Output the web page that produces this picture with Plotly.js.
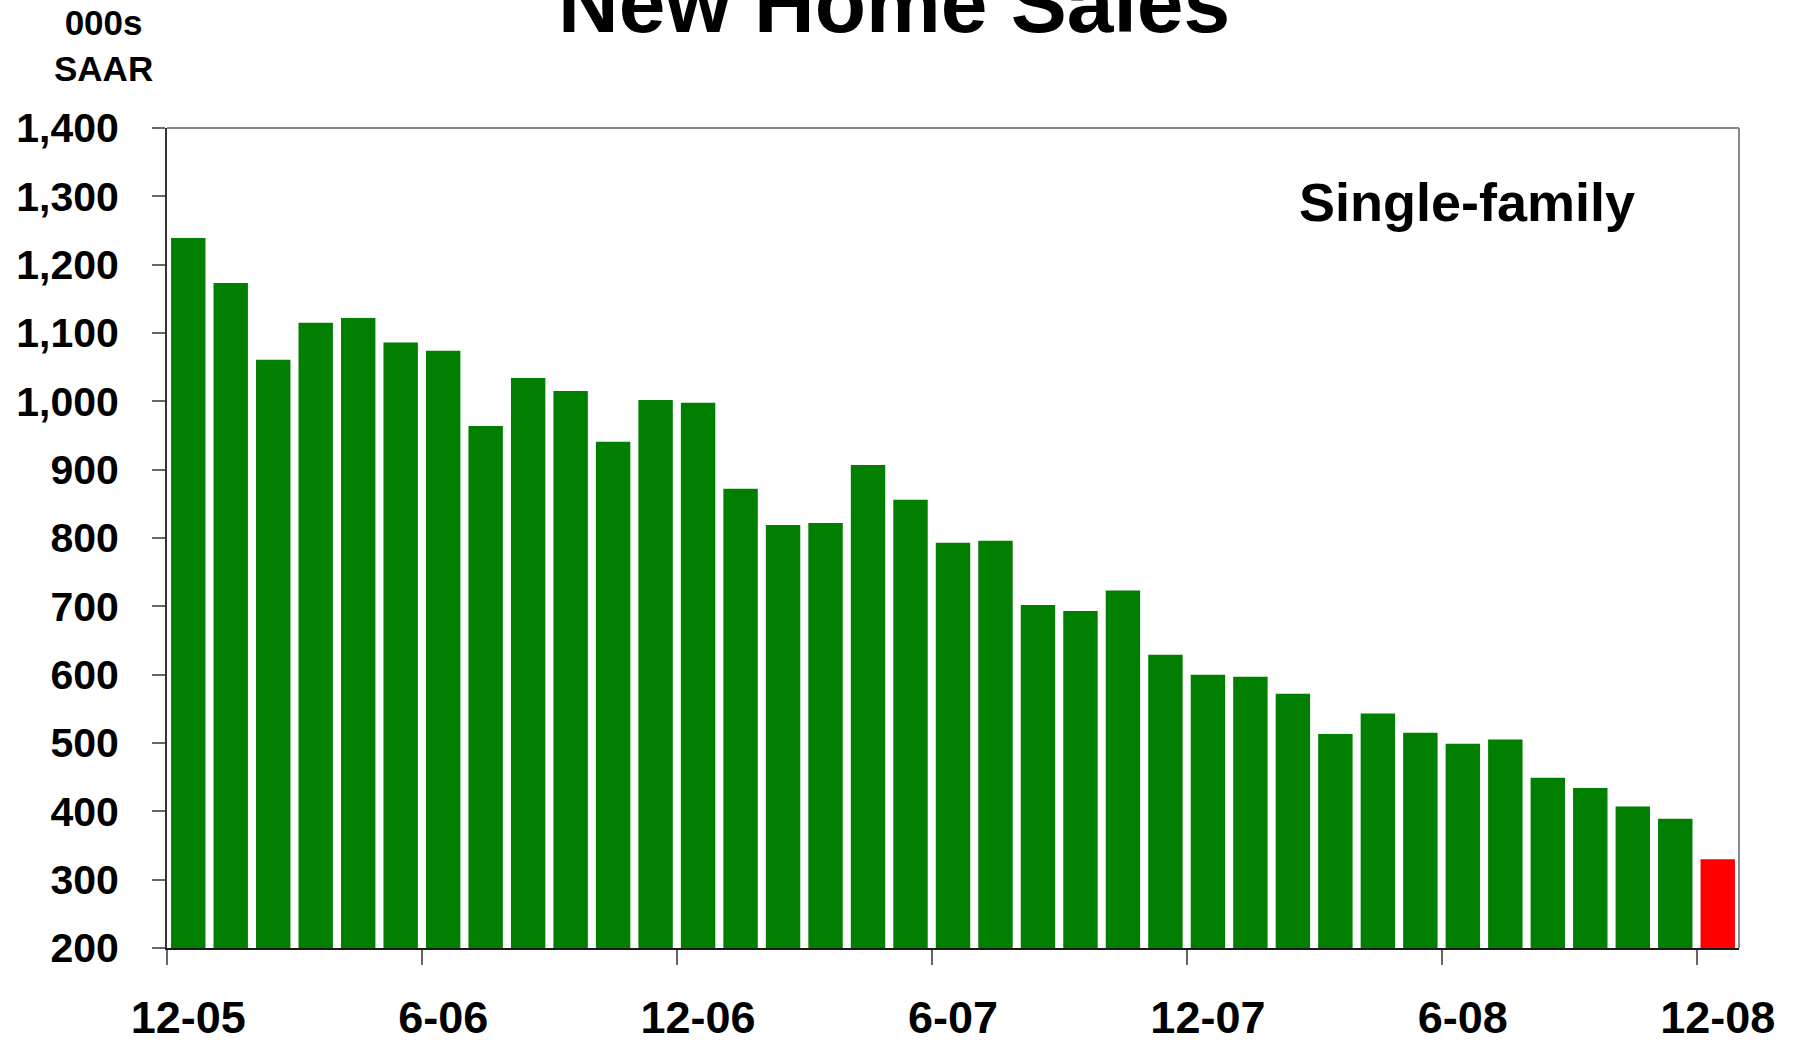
<!DOCTYPE html>
<html>
<head>
<meta charset="utf-8">
<script src="https://cdn.plot.ly/plotly-3.0.1.min.js"></script>
<style>
  html, body { margin: 0; padding: 0; background: #ffffff; }
  #chart { width: 1802px; height: 1040px; }
</style>
</head>
<body>
<div id="chart"></div>
<script>
// Months, Dec 2005 .. Dec 2008
const months = ['12-05','1-06','2-06','3-06','4-06','5-06','6-06','7-06','8-06','9-06','10-06','11-06',
                '12-06','1-07','2-07','3-07','4-07','5-07','6-07','7-07','8-07','9-07','10-07','11-07',
                '12-07','1-08','2-08','3-08','4-08','5-08','6-08','7-08','8-08','9-08','10-08','11-08','12-08'];
// New single-family home sales, 000s SAAR
const sales = [1239, 1173, 1061, 1115, 1122, 1086, 1074, 964, 1034, 1015, 941, 1002,
               998, 872, 819, 822, 907, 856, 793, 796, 702, 693, 723, 629,
               600, 597, 572, 513, 543, 515, 499, 505, 449, 434, 407, 389, 330];
// Months that carry an axis label
const labelledMonths = ['12-05','6-06','12-06','6-07','12-07','6-08','12-08'];
const titleText = 'New Home Sales';
const unitText = '000s<br>SAAR';
const seriesText = 'Single-family';

const GREEN = '#007F00';
const RED = '#FF0000';
const FONT = 'Liberation Sans, Arial, Helvetica, sans-serif';

const xIdx = months.map((m, i) => i);
const barColors = months.map((m, i) => i === months.length - 1 ? RED : GREEN);
const tickIdx = labelledMonths.map(m => months.indexOf(m));

const trace = {
  type: 'bar',
  x: xIdx,
  y: sales,
  marker: { color: barColors, line: { width: 0 } },
  hoverinfo: 'skip'
};

const layout = {
  width: 1802,
  height: 1040,
  paper_bgcolor: '#ffffff',
  plot_bgcolor: '#ffffff',
  margin: { l: 167, r: 63, t: 128, b: 92, pad: 0 },
  showlegend: false,
  bargap: 0.19,
  font: { family: FONT, color: '#000000' },
  xaxis: {
    range: [-0.5, months.length - 0.5],
    tickmode: 'array',
    tickvals: tickIdx,
    ticktext: labelledMonths,
    ticks: '',
    showgrid: false,
    zeroline: false,
    showline: true,
    linecolor: '#1a1a1a',
    linewidth: 2,
    tickfont: { family: FONT, size: 45, weight: 700, color: '#000000' },
    ticklabelstandoff: 29,
    minor: {
      tickmode: 'linear',
      tick0: -0.5,
      dtick: 6,
      ticks: 'outside',
      ticklen: 15,
      tickwidth: 2,
      tickcolor: '#666666',
      showgrid: false
    },
    fixedrange: true
  },
  yaxis: {
    range: [200, 1400],
    tickmode: 'linear',
    tick0: 200,
    dtick: 100,
    tickformat: ',d',
    ticks: 'outside',
    ticklen: 13,
    tickwidth: 2,
    tickcolor: '#666666',
    showgrid: false,
    zeroline: false,
    showline: true,
    linecolor: '#333333',
    linewidth: 2,
    tickfont: { family: FONT, size: 41, weight: 700, color: '#000000' },
    ticklabelstandoff: 25,
    fixedrange: true
  },
  shapes: [
    { type: 'line', xref: 'paper', yref: 'paper', x0: 0, x1: 1, y0: 1, y1: 1,
      line: { color: '#888888', width: 2 } },
    { type: 'line', xref: 'paper', yref: 'paper', x0: 1, x1: 1, y0: 0, y1: 1,
      line: { color: '#888888', width: 2 } }
  ],
  annotations: [
    { text: titleText, xref: 'paper', yref: 'paper', x: 0.4625, y: 1.152,
      xanchor: 'center', yanchor: 'middle', showarrow: false,
      font: { family: FONT, size: 84, weight: 700, color: '#000000' } },
    { text: unitText, xref: 'paper', yref: 'paper', x: -0.0405, y: 1.10,
      xanchor: 'center', yanchor: 'middle', showarrow: false, align: 'center',
      font: { family: FONT, size: 35, weight: 700, color: '#000000' } },
    { text: seriesText, xref: 'paper', yref: 'paper', x: 0.827, y: 0.9096,
      xanchor: 'center', yanchor: 'middle', showarrow: false,
      font: { family: FONT, size: 54, weight: 700, color: '#000000' } }
  ]
};

Plotly.newPlot('chart', [trace], layout, { displayModeBar: false, staticPlot: true });
</script>
</body>
</html>
